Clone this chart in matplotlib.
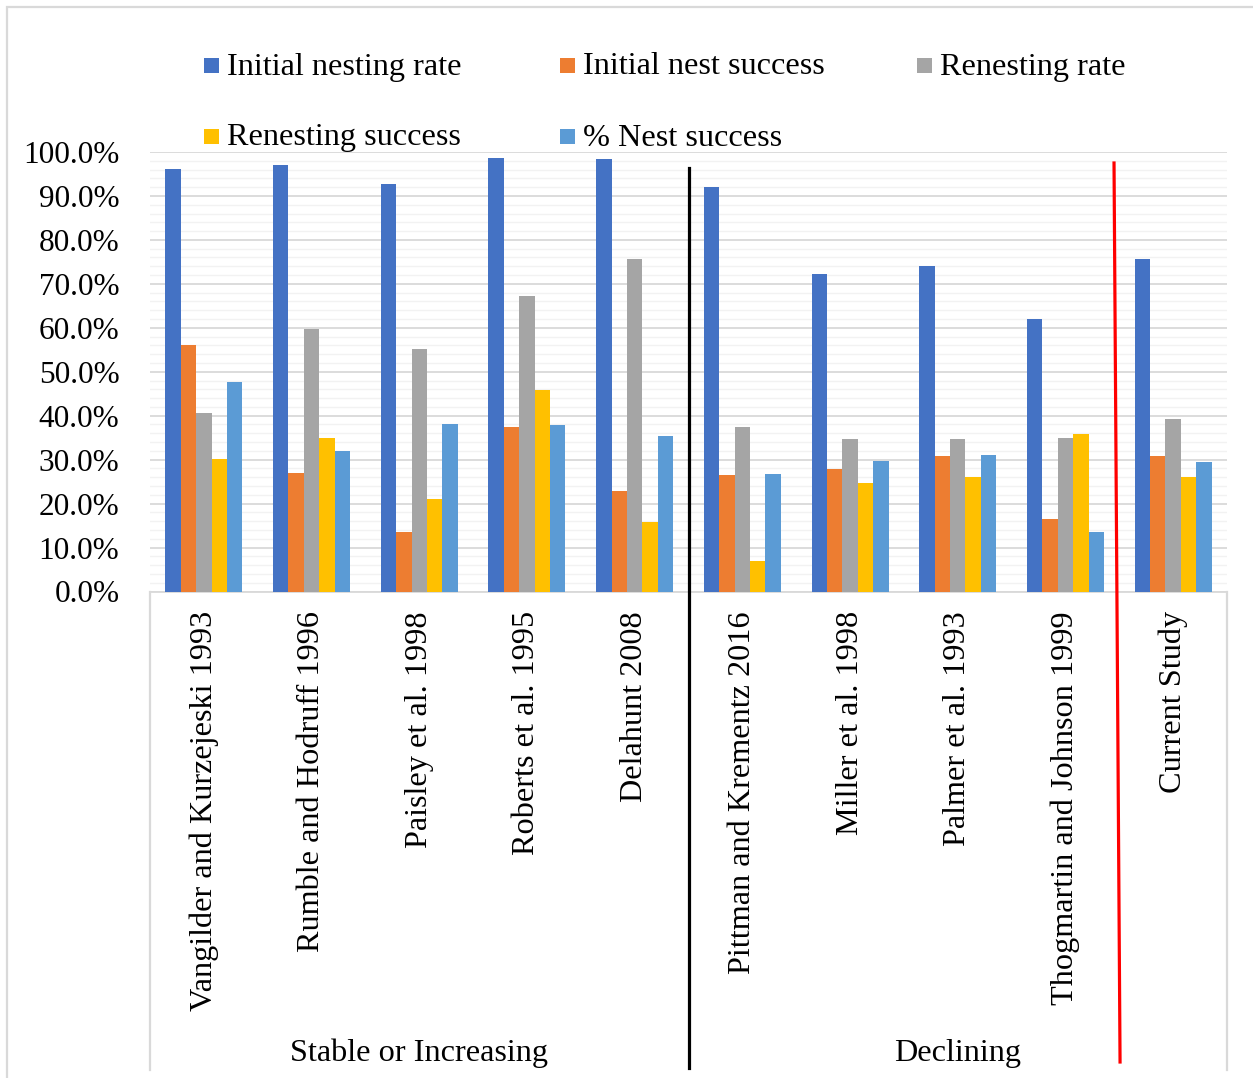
import matplotlib
matplotlib.use("Agg")
import matplotlib.pyplot as plt
import matplotlib.transforms as mtransforms
from matplotlib.patches import Rectangle
from matplotlib.ticker import MultipleLocator, PercentFormatter
import numpy as np

plt.rcParams['font.family'] = ['Liberation Serif', 'DejaVu Serif']

# Studies (categories) and their trend groups
studies = [
    "Vangilder and Kurzejeski 1993",
    "Rumble and Hodruff 1996",
    "Paisley et al. 1998",
    "Roberts et al. 1995",
    "Delahunt 2008",
    "Pittman and Krementz 2016",
    "Miller et al. 1998",
    "Palmer et al. 1993",
    "Thogmartin and Johnson 1999",
    "Current Study",
]
groups = ["Stable or Increasing", "Declining"]
group_sizes = [5, 5]

series_names = [
    "Initial nesting rate",
    "Initial nest success",
    "Renesting rate",
    "Renesting success",
    "% Nest success",
]
series_colors = ["#4472C4", "#ED7D31", "#A5A5A5", "#FFC000", "#5B9BD5"]

# Values in percent
initial_nesting_rate = [96.1, 97.0, 92.7, 98.6, 98.4, 92.0, 72.2, 74.1, 62.1, 75.7]
initial_nest_success = [56.2, 27.0, 13.5, 37.4, 22.9, 26.5, 27.9, 30.8, 16.4, 30.9]
renesting_rate = [40.6, 59.7, 55.2, 67.2, 75.7, 37.5, 34.8, 34.8, 34.9, 39.2]
renesting_success = [30.1, 35.0, 21.0, 45.8, 15.9, 6.9, 24.6, 26.1, 35.9, 26.1]
nest_success = [47.6, 32.0, 38.2, 37.9, 35.4, 26.7, 29.7, 31.1, 13.5, 29.4]

series_values = [initial_nesting_rate, initial_nest_success, renesting_rate,
                 renesting_success, nest_success]

FS = 23.2
W, H = 1253, 1078
fig = plt.figure(figsize=(W / 100, H / 100), dpi=100)

# outer chart border
fig.patches.append(Rectangle((7 / W, -0.02), 1.1, (H - 7) / H + 0.02,
                             transform=fig.transFigure, fill=False,
                             edgecolor="#D9D9D9", linewidth=1.6))

ax = fig.add_axes([150 / W, (H - 591.5) / H, (1227 - 150) / W, (591.5 - 152) / H])

n = len(studies)
x = np.arange(n)
bw = 0.143
for j, (name, vals, col) in enumerate(zip(series_names, series_values, series_colors)):
    ax.bar(x + (j - 2) * bw, np.array(vals) / 100.0, width=bw, color=col,
           label=name, zorder=3)

ax.set_xlim(-0.5, n - 0.5)
ax.set_ylim(0, 1.0)
ax.yaxis.set_major_locator(MultipleLocator(0.1))
ax.yaxis.set_minor_locator(MultipleLocator(0.02))
ax.yaxis.set_major_formatter(PercentFormatter(xmax=1.0, decimals=1))
ax.grid(axis="y", which="major", color="#D9D9D9", linewidth=1.3, zorder=0)
ax.grid(axis="y", which="minor", color="#F2F2F2", linewidth=1.0, zorder=0)
ax.set_axisbelow(True)

for s in ["top", "left", "right"]:
    ax.spines[s].set_visible(False)
ax.spines["bottom"].set_color("#D9D9D9")
ax.spines["bottom"].set_linewidth(1.3)

ax.tick_params(axis="y", which="both", length=0, pad=22, labelsize=22.5, labelcolor="black")
ax.set_xticks(x)
ax.set_xticklabels(studies, rotation=90, va="top", ha="center", fontsize=FS)
ax.tick_params(axis="x", length=0, pad=14)

trans = mtransforms.blended_transform_factory(ax.transData, ax.transAxes)
bottom_frac = (591.5 - 1070) / (591.5 - 152)

# group separators of the category axis
for xb in [-0.5, n - 0.5]:
    ax.plot([xb, xb], [0, bottom_frac], transform=trans, color="#D9D9D9",
            linewidth=1.6, clip_on=False, zorder=1)

# group labels
start = 0
for g, size in zip(groups, group_sizes):
    center = start + (size - 1) / 2.0
    ax.text(center, (591.5 - 1053) / (591.5 - 152), g, transform=trans,
            ha="center", va="center", fontsize=FS)
    start += size

# divider between trend groups
ax.plot([4.5, 4.5], [(591.5 - 168) / 439.5, (591.5 - 1068) / 439.5], transform=trans,
        color="black", linewidth=2.3, clip_on=False, zorder=5)

# divider before the current study
ax.plot([8.451, 8.507], [(591.5 - 163) / 439.5, (591.5 - 1062) / 439.5], transform=trans,
        color="#FF0000", linewidth=2.3, clip_on=False, zorder=5)

# legend laid out in rows of three
legend_cols = [204, 560, 917]
legend_rows = [65, 136]
for k, (name, col) in enumerate(zip(series_names, series_colors)):
    r, c = divmod(k, 3)
    lx, ly = legend_cols[c], legend_rows[r]
    fig.patches.append(Rectangle((lx / W, (H - ly - 7.5) / H), 15 / W, 15 / H,
                                 transform=fig.transFigure, facecolor=col,
                                 edgecolor="none"))
    fig.text((lx + 23) / W, (H - ly - 2) / H, name, ha="left", va="center",
             fontsize=FS)

fig.savefig("out.png", dpi=100, facecolor="white")
